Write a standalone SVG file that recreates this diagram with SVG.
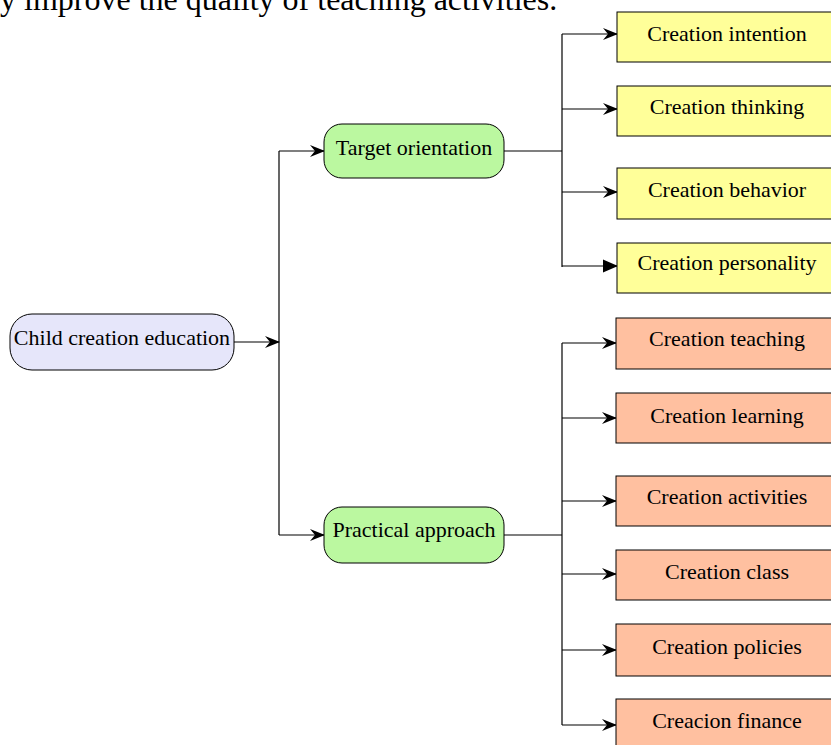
<svg xmlns="http://www.w3.org/2000/svg" width="831" height="745" viewBox="0 0 831 745">
<defs>
<style>
text{font-family:"Liberation Serif","Times New Roman",serif;font-size:22px;fill:#000;text-anchor:middle}
.c{fill:none;stroke:#000;stroke-width:1.2}
.root{fill:#e6e6fa;stroke:#000;stroke-width:1}
.mid{fill:#bbf8a0;stroke:#000;stroke-width:1}
.y{fill:#ffff99;stroke:#000;stroke-width:1}
.o{fill:#ffc0a0;stroke:#000;stroke-width:1}
</style>
<marker id="a" viewBox="0 0 15 13" refX="14" refY="6.5" markerWidth="15" markerHeight="13" markerUnits="userSpaceOnUse" orient="auto">
<path d="M0,0.5 L15,6.5 L0,12.5 L5,6.5 Z" fill="#000"/>
</marker>
<marker id="t" viewBox="0 0 15 14" refX="14" refY="7" markerWidth="15" markerHeight="14" markerUnits="userSpaceOnUse" orient="auto">
<path d="M0,0.5 L15,7 L0,13.5 Z" fill="#000"/>
</marker>
</defs>
<text x="0" y="10" style="font-size:32px;text-anchor:start">y improve the quality of teaching activities.</text>
<g id="connectors">
<path class="c" d="M234,342 H279" marker-end="url(#a)"/>
<path class="c" d="M279,151 V535"/>
<path class="c" d="M279,151 H324" marker-end="url(#a)"/>
<path class="c" d="M279,535 H324" marker-end="url(#a)"/>
<path class="c" d="M504,151 H562"/>
<path class="c" d="M562,34 V267"/>
<path class="c" d="M562,34 H617" marker-end="url(#a)"/>
<path class="c" d="M562,109 H617" marker-end="url(#a)"/>
<path class="c" d="M562,192 H617" marker-end="url(#a)"/>
<path class="c" d="M562,266 H617" marker-end="url(#t)"/>
<path class="c" d="M504,535 H562"/>
<path class="c" d="M562,343 V725"/>
<path class="c" d="M562,343 H616" marker-end="url(#a)"/>
<path class="c" d="M562,418 H616" marker-end="url(#a)"/>
<path class="c" d="M562,501 H616" marker-end="url(#a)"/>
<path class="c" d="M562,574 H616" marker-end="url(#a)"/>
<path class="c" d="M562,650 H616" marker-end="url(#a)"/>
<path class="c" d="M562,725 H616" marker-end="url(#a)"/>
</g>
<g id="root"><rect class="root" x="10" y="314" width="224" height="56" rx="22"/><text x="122" y="345">Child creation education</text></g>
<g id="target"><rect class="mid" x="324" y="124" width="180" height="54" rx="18"/><text x="414" y="155">Target orientation</text></g>
<g id="practical"><rect class="mid" x="324" y="507" width="180" height="56" rx="18"/><text x="414" y="537">Practical approach</text></g>
<g id="intention"><rect class="y" x="617" y="12" width="225" height="50"/><text x="727" y="41">Creation intention</text></g>
<g id="thinking"><rect class="y" x="617" y="86" width="225" height="50"/><text x="727" y="114">Creation thinking</text></g>
<g id="behavior"><rect class="y" x="617" y="168" width="225" height="51"/><text x="727" y="197">Creation behavior</text></g>
<g id="personality"><rect class="y" x="617" y="243" width="225" height="50"/><text x="727" y="270">Creation personality</text></g>
<g id="teaching"><rect class="o" x="616" y="318" width="225" height="51"/><text x="727" y="346">Creation teaching</text></g>
<g id="learning"><rect class="o" x="616" y="393" width="225" height="50"/><text x="727" y="423">Creation learning</text></g>
<g id="activities"><rect class="o" x="616" y="476" width="225" height="50"/><text x="727" y="504">Creation activities</text></g>
<g id="class"><rect class="o" x="616" y="550" width="225" height="50"/><text x="727" y="579">Creation class</text></g>
<g id="policies"><rect class="o" x="616" y="624" width="225" height="52"/><text x="727" y="654">Creation policies</text></g>
<g id="finance"><rect class="o" x="616" y="699" width="225" height="60"/><text x="727" y="728">Creacion finance</text></g>
</svg>
